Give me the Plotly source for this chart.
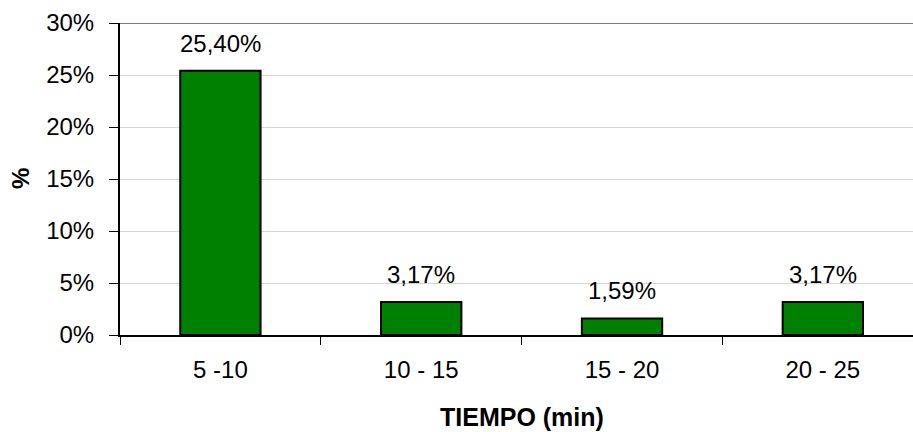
import plotly.graph_objects as go

# Distribution of times (minutes) as share of total
categories = ["5 -10", "10 - 15", "15 - 20", "20 - 25"]
percent_values = [25.40, 3.17, 1.59, 3.17]
y_tick_values = [0, 0.05, 0.10, 0.15, 0.20, 0.25, 0.30]

FONT = "Liberation Sans, Arial, sans-serif"
fractions = [v / 100 for v in percent_values]

fig = go.Figure()
fig.add_trace(go.Bar(
    x=categories,
    y=fractions,
    width=0.4,
    marker=dict(color="#008000", line=dict(color="#000000", width=2)),
    hoverinfo="skip",
))

# Value labels above each bar (comma decimal separator)
for cat, v, f in zip(categories, percent_values, fractions):
    fig.add_annotation(
        x=cat, y=f, text=f"{v:.2f}%".replace(".", ","),
        showarrow=False, yanchor="bottom", yshift=12,
        font=dict(family=FONT, size=24, color="#000000"),
    )

# Axis titles
fig.add_annotation(
    x=1.5, xref="x", y=0, yref="paper", yanchor="middle",
    yshift=-82, text="<b>TIEMPO (min)</b>", showarrow=False,
    font=dict(family=FONT, size=25, color="#000000"),
)
fig.add_annotation(
    x=0, xref="paper", xanchor="center", xshift=-100, y=0.5, yref="paper",
    text="<b>%</b>", textangle=-90, showarrow=False,
    font=dict(family=FONT, size=24, color="#000000"),
)

# Darker top border line of the plot area
fig.add_shape(
    type="line", xref="paper", x0=0, x1=1, yref="y", y0=0.30, y1=0.30,
    line=dict(color="#808080", width=2), layer="above",
)

fig.update_layout(
    width=913, height=432,
    margin=dict(l=120, r=0, t=23, b=97),
    paper_bgcolor="white", plot_bgcolor="white",
    showlegend=False,
    font=dict(family=FONT, size=24, color="#000000"),
    xaxis=dict(
        type="category",
        range=[-0.5, 3.449],
        tickson="boundaries",
        ticks="outside", ticklen=8, tickwidth=1, tickcolor="#000000",
        showline=True, linecolor="#000000", linewidth=2,
        showgrid=False, zeroline=False,
        ticklabelstandoff=12,
        tickfont=dict(family=FONT, size=24, color="#000000"),
    ),
    yaxis=dict(
        range=[0, 0.30],
        tickvals=y_tick_values,
        tickformat=".0%",
        ticks="outside", ticklen=9, tickwidth=1, tickcolor="#000000",
        showline=True, linecolor="#000000", linewidth=2,
        showgrid=True, gridcolor="#d4d4d4", gridwidth=1,
        zeroline=False,
        ticklabelstandoff=10,
        tickfont=dict(family=FONT, size=24, color="#000000"),
    ),
)

fig.write_html("out.html")
